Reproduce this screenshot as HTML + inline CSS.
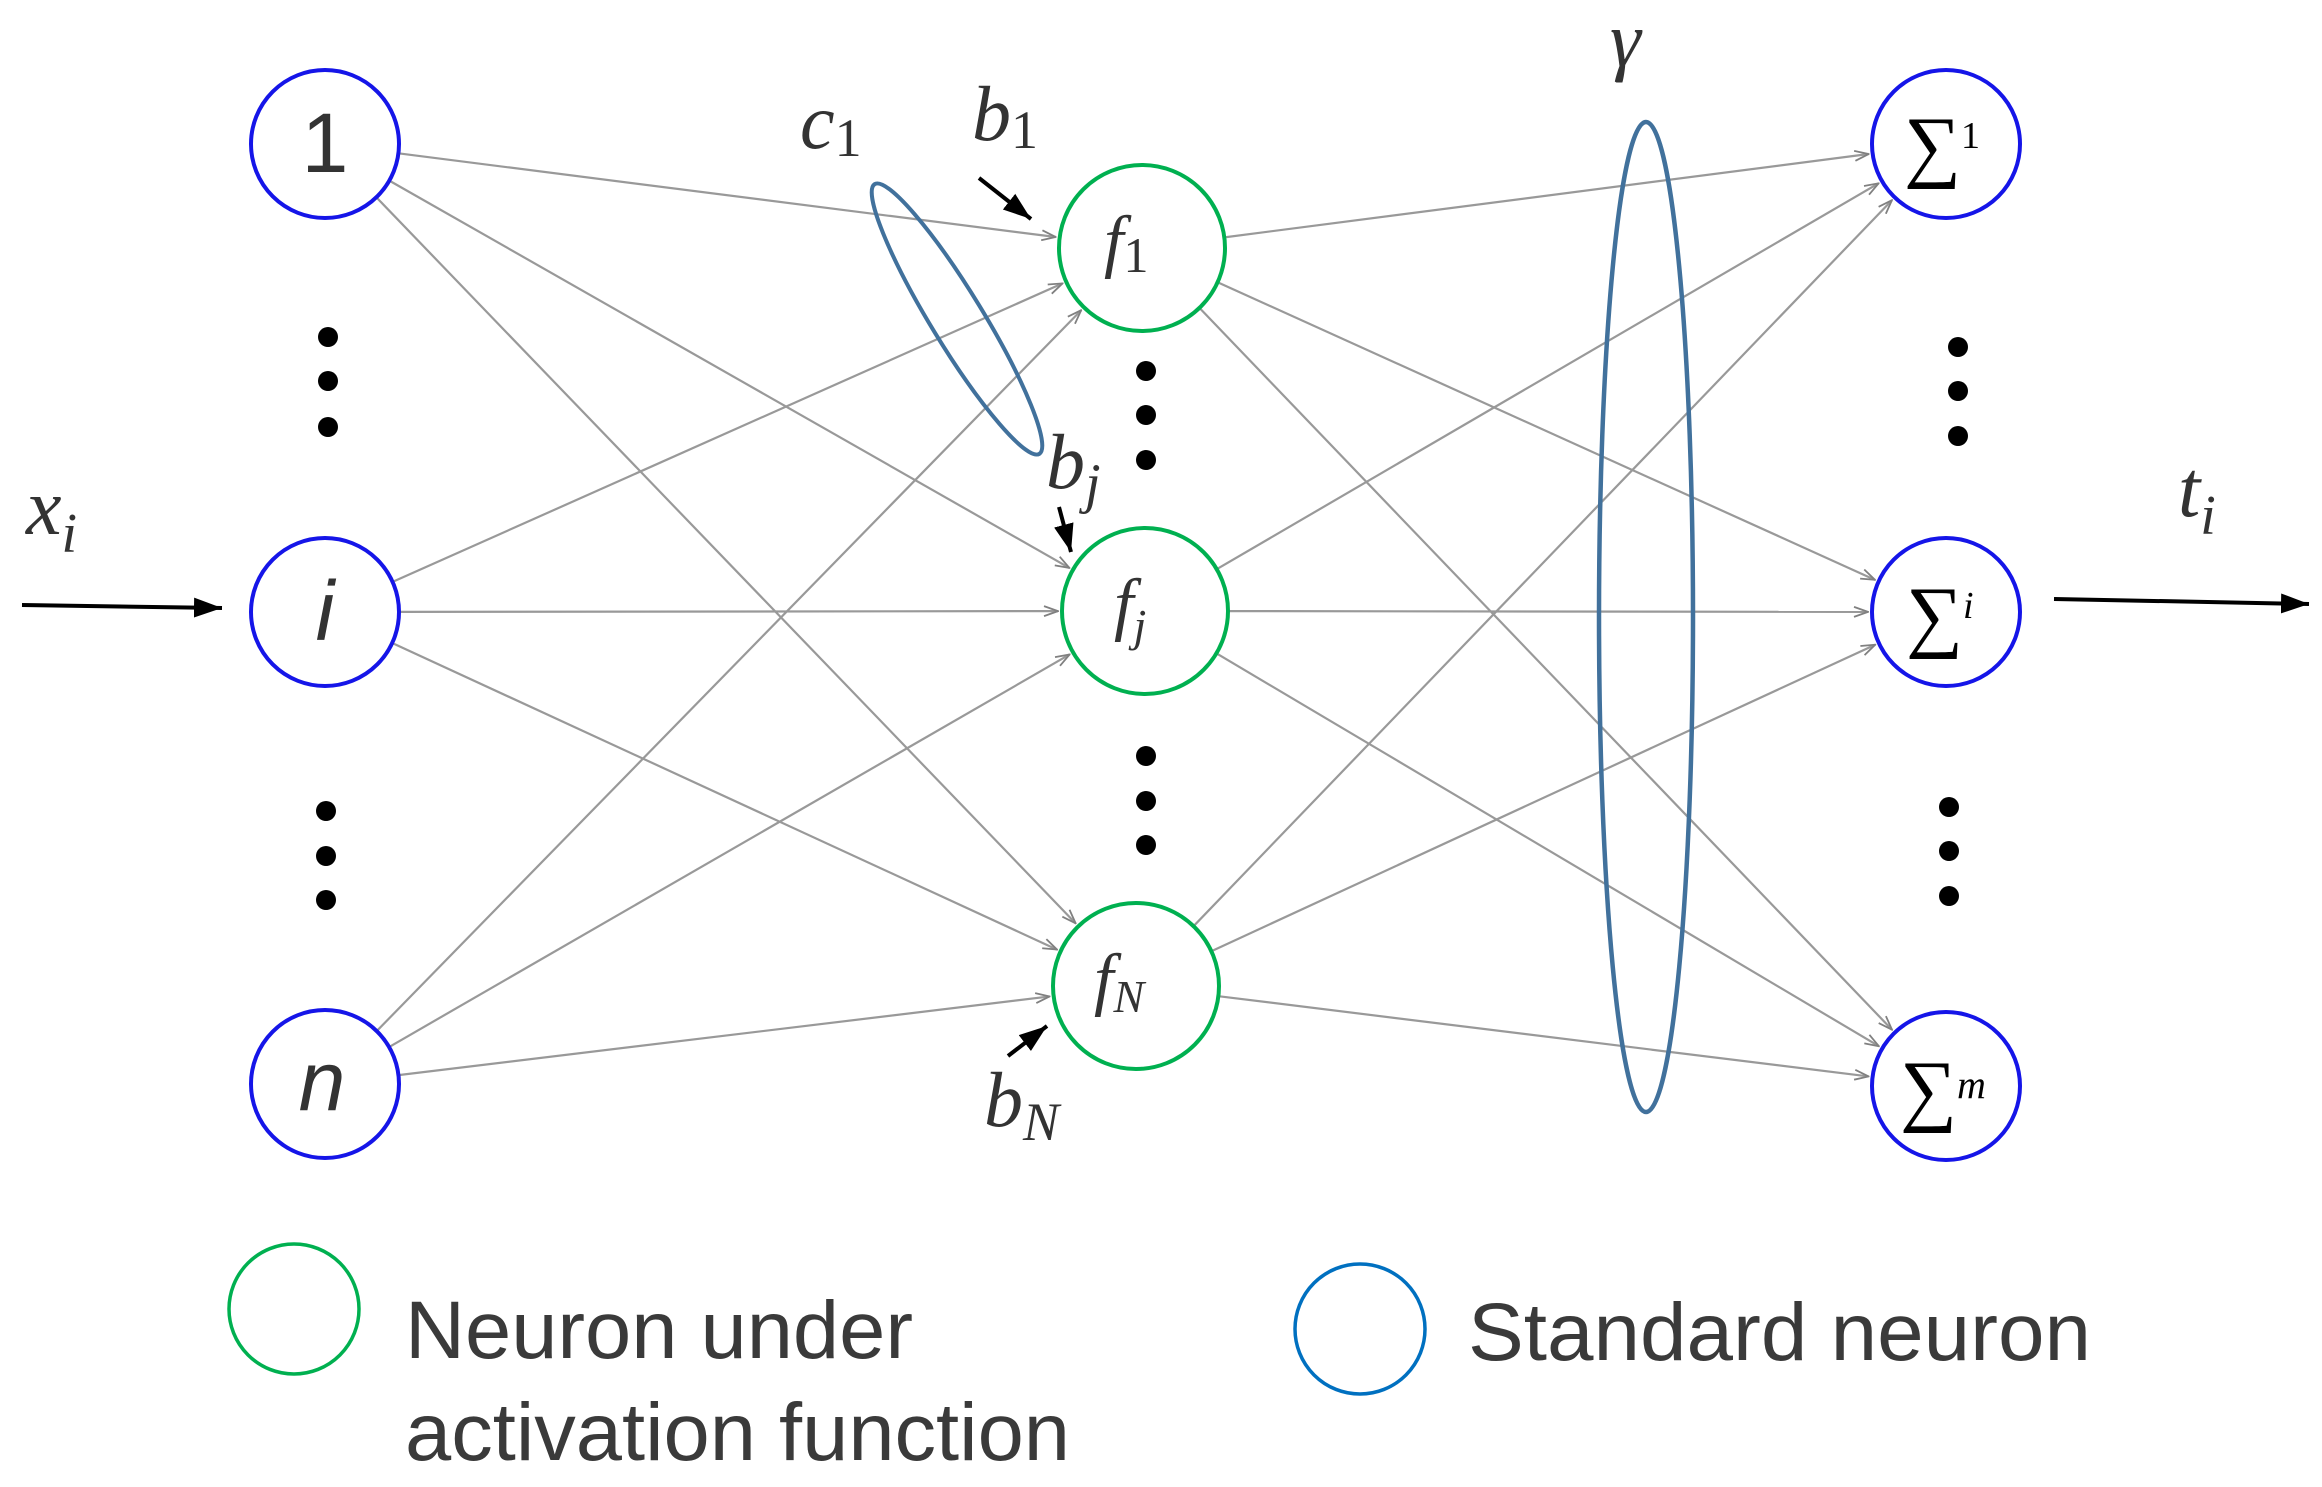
<!DOCTYPE html>
<html><head><meta charset="utf-8"><style>
html,body{margin:0;padding:0;background:#fff}
svg{display:block}
.sans{font-family:"Liberation Sans",sans-serif}
.ser{font-family:"Liberation Serif",serif;font-style:italic}
</style></head><body>
<svg id="s" width="2322" height="1487" viewBox="0 0 2322 1487" xmlns="http://www.w3.org/2000/svg">
<defs>
<marker id="oa" markerWidth="16" markerHeight="12" refX="15" refY="6" orient="auto" markerUnits="userSpaceOnUse">
<path d="M1,1 L15,6 L1,11" fill="none" stroke="#808080" stroke-width="1.8"/>
</marker>
<marker id="ba" markerWidth="30" markerHeight="24" refX="28" refY="12" orient="auto" markerUnits="userSpaceOnUse">
<path d="M0,2 L28,12 L0,22 Z" fill="#000"/>
</marker>
</defs>
<g id="edges" stroke="#999" stroke-width="2.2" fill="none"></g>

<g fill="#fff" stroke="#1515e8" stroke-width="4">
<circle cx="325" cy="144" r="74"/><circle cx="325" cy="612" r="74"/><circle cx="325" cy="1084" r="74"/>
<circle cx="1946" cy="144" r="74"/><circle cx="1946" cy="612" r="74"/><circle cx="1946" cy="1086" r="74"/>
</g>
<g fill="#fff" stroke="#00b050" stroke-width="4">
<circle cx="1142" cy="248" r="83"/><circle cx="1145" cy="611" r="83"/><circle cx="1136" cy="986" r="83"/>
</g>

<text x="325" y="172" class="sans" font-size="84" fill="#333" text-anchor="middle">1</text>
<text x="325" y="640" class="sans" font-size="84" font-style="italic" fill="#333" text-anchor="middle">i</text>
<text x="322" y="1110" class="sans" font-size="84" font-style="italic" fill="#333" text-anchor="middle">n</text>

<text x="1104" y="264" class="ser" font-size="70" fill="#333">f<tspan font-size="50" font-style="normal" dy="8">1</tspan></text>
<text x="1114" y="627" class="ser" font-size="70" fill="#333">f<tspan font-size="46" dy="14">j</tspan></text>
<text x="1094" y="1002" class="ser" font-size="70" fill="#333">f<tspan font-size="46" dy="10">N</tspan></text>

<text x="1904" y="172" font-family="Liberation Serif,serif" font-size="80" fill="#000">∑<tspan font-size="38" dy="-24">1</tspan></text>
<text x="1906" y="642" font-family="Liberation Serif,serif" font-size="80" fill="#000">∑<tspan font-size="38" font-style="italic" dy="-24">i</tspan></text>
<text x="1900" y="1116" font-family="Liberation Serif,serif" font-size="80" fill="#000">∑<tspan font-size="40" font-style="italic" dy="-18">m</tspan></text>

<g fill="#000">
<circle cx="328" cy="337" r="10"/><circle cx="328" cy="381" r="10"/><circle cx="328" cy="427" r="10"/>
<circle cx="326" cy="811" r="10"/><circle cx="326" cy="856" r="10"/><circle cx="326" cy="900" r="10"/>
<circle cx="1146" cy="371" r="10"/><circle cx="1146" cy="415" r="10"/><circle cx="1146" cy="460" r="10"/>
<circle cx="1146" cy="756" r="10"/><circle cx="1146" cy="801" r="10"/><circle cx="1146" cy="845" r="10"/>
<circle cx="1958" cy="347" r="10"/><circle cx="1958" cy="391" r="10"/><circle cx="1958" cy="436" r="10"/>
<circle cx="1949" cy="807" r="10"/><circle cx="1949" cy="851" r="10"/><circle cx="1949" cy="896" r="10"/>
</g>

<ellipse cx="957" cy="319" rx="158" ry="26" transform="rotate(58.6 957 319)" fill="none" stroke="#41719c" stroke-width="4"/>
<ellipse cx="1646" cy="617" rx="47" ry="495" fill="none" stroke="#41719c" stroke-width="4.5"/>

<g stroke="#000" stroke-width="4" fill="none">
<line x1="22" y1="605" x2="222" y2="608" marker-end="url(#ba)"/>
<line x1="2054" y1="599" x2="2309" y2="604" marker-end="url(#ba)"/>
<line x1="979" y1="178" x2="1031" y2="219" marker-end="url(#ba)"/>
<line x1="1059" y1="507" x2="1071" y2="552" marker-end="url(#ba)"/>
<line x1="1008" y1="1056" x2="1047" y2="1026" marker-end="url(#ba)"/>
</g>

<text x="26" y="534" class="ser" font-size="80" fill="#333">x<tspan font-size="56" dy="18">i</tspan></text>
<text x="2178" y="516" class="ser" font-size="80" fill="#333">t<tspan font-size="56" dy="18">i</tspan></text>
<text x="800" y="148" class="ser" font-size="78" fill="#333">c<tspan font-size="54" font-style="normal" dy="8">1</tspan></text>
<text x="972" y="140" class="ser" font-size="78" fill="#333">b<tspan font-size="54" font-style="normal" dy="8">1</tspan></text>
<text x="1046" y="488" class="ser" font-size="78" fill="#333">b<tspan font-size="56" dy="14">j</tspan></text>
<text x="984" y="1126" class="ser" font-size="78" fill="#333">b<tspan font-size="54" dy="14">N</tspan></text>
<text x="1610" y="66" class="ser" font-size="78" fill="#333">γ</text>

<circle cx="294" cy="1309" r="65" fill="none" stroke="#00b050" stroke-width="3.5"/>
<circle cx="1360" cy="1329" r="65" fill="none" stroke="#0070c0" stroke-width="3.5"/>
<text x="405" y="1358" class="sans" font-size="82" fill="#3a3a3a" textLength="508" lengthAdjust="spacingAndGlyphs">Neuron under</text>
<text x="405" y="1460" class="sans" font-size="82" fill="#3a3a3a" textLength="665" lengthAdjust="spacingAndGlyphs">activation function</text>
<text x="1468" y="1360" class="sans" font-size="82" fill="#3a3a3a" textLength="623" lengthAdjust="spacingAndGlyphs">Standard neuron</text>
</svg>
<script>
(function(){
var ns="http://www.w3.org/2000/svg";
var inp=[[325,144,74],[325,612,74],[325,1084,74]];
var hid=[[1142,248,83],[1145,611,83],[1136,986,83]];
var out=[[1946,144,74],[1946,612,74],[1946,1086,74]];
var g=document.getElementById('edges');
function conn(A,B){
  A.forEach(function(a){B.forEach(function(b){
    var dx=b[0]-a[0],dy=b[1]-a[1],L=Math.sqrt(dx*dx+dy*dy),ux=dx/L,uy=dy/L;
    var l=document.createElementNS(ns,'line');
    l.setAttribute('x1',a[0]+ux*a[2]);l.setAttribute('y1',a[1]+uy*a[2]);
    l.setAttribute('x2',b[0]-ux*(b[2]+4));l.setAttribute('y2',b[1]-uy*(b[2]+4));
    l.setAttribute('marker-end','url(#oa)');
    g.appendChild(l);
  });});
}
conn(inp,hid);conn(hid,out);
})();
</script>
</body></html>
